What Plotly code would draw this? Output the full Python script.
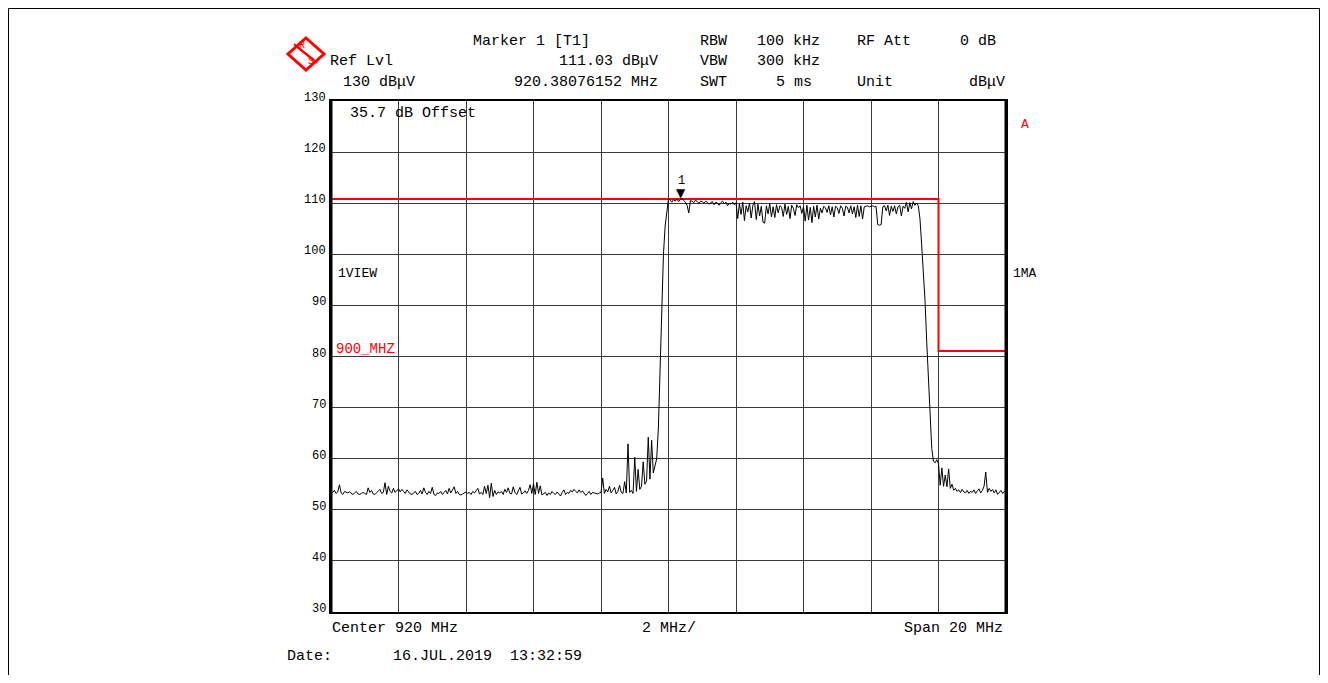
import numpy as np
import plotly.graph_objects as go

# ---------------- data ----------------
F_START, F_STOP = 910.0, 930.0          # MHz (center 920, span 20)
levels = [
    53.6, 53.4, 53.8, 53.2, 53.5, 54.9, 53.3, 53.0, 53.6, 53.4, 53.3, 53.5, 53.2, 53.0, 53.3, 53.6, 53.1, 53.0, 53.2, 53.4,
    53.2, 53.0, 54.3, 53.4, 53.8, 53.1, 53.0, 53.3, 53.6, 54.0, 53.2, 53.4, 55.3, 53.0, 54.6, 53.6, 53.3, 54.2, 53.4, 53.7,
    54.1, 53.5, 54.0, 53.6, 53.2, 53.9, 53.4, 53.1, 53.0, 53.3, 53.6, 53.0, 53.2, 53.8, 53.1, 54.3, 53.4, 53.0, 53.6, 53.2,
    54.4, 53.0, 52.8, 53.3, 53.2, 53.6, 53.0, 53.4, 53.8, 53.1, 54.2, 53.3, 53.9, 54.5, 53.2, 53.6, 53.0, 52.9, 53.1, 53.3,
    53.5, 53.2, 53.4, 53.0, 53.6, 53.3, 53.8, 54.2, 53.1, 53.4, 53.0, 54.6, 53.2, 54.8, 52.4, 55.2, 52.6, 53.8, 53.0, 53.5,
    53.3, 53.6, 53.0, 54.0, 53.4, 54.3, 53.2, 53.1, 54.5, 53.4, 53.0, 53.6, 54.4, 53.1, 53.3, 53.7, 53.2, 53.8, 54.9, 53.2,
    55.1, 53.0, 55.4, 53.2, 54.7, 52.9, 53.1, 53.4, 52.8, 53.3, 53.0, 53.6, 53.2, 53.0, 53.5, 53.1, 52.7, 53.4, 53.9, 53.0,
    53.4, 53.2, 53.8, 53.5, 54.0, 53.6, 53.3, 53.9, 53.4, 53.7, 53.1, 52.8, 53.2, 53.6, 53.0, 53.4, 53.3, 53.2, 53.1, 53.3,
    53.4, 56.2, 53.2, 54.0, 53.5, 54.6, 53.3, 53.8, 54.4, 53.1, 53.6, 54.8, 53.4, 53.2, 55.5, 53.3, 62.9, 53.4, 53.8, 53.2,
    60.3, 53.6, 57.9, 54.0, 54.6, 59.4, 55.0, 55.6, 64.2, 56.0, 63.6, 57.2, 58.4, 60.0, 66.0, 78.0, 91.0, 100.0, 105.5, 108.7,
    110.9, 110.6, 110.2, 110.7, 110.4, 110.8, 110.3, 110.7, 111.0, 110.5, 110.2, 109.6, 108.1, 110.5, 110.4, 110.1, 110.6, 110.3, 110.0, 110.4,
    110.3, 110.0, 110.4, 110.2, 109.8, 110.1, 110.3, 109.7, 110.2, 110.0, 109.6, 110.1, 110.4, 109.9, 110.2, 109.5, 110.0, 109.8, 110.2, 109.7,
    110.1, 107.0, 109.9, 107.8, 110.2, 106.6, 109.5, 108.3, 110.0, 107.1, 109.6, 110.3, 106.8, 109.8, 107.5, 109.4, 106.3, 106.1, 109.5, 107.9,
    109.9, 107.3, 109.3, 107.2, 109.7, 108.1, 109.5, 109.2, 107.4, 109.8, 107.8, 109.4, 107.0, 109.6, 109.0, 107.6, 109.7, 109.1, 109.5, 108.0,
    109.3, 106.5, 109.6, 106.7, 109.2, 106.2, 109.4, 107.3, 109.6, 106.9, 109.0, 108.1, 109.4, 109.1, 108.2, 109.5, 107.7, 109.3, 107.3, 109.4,
    109.1, 108.0, 109.5, 109.0, 107.5, 109.4, 109.2, 108.1, 109.5, 107.9, 109.3, 107.2, 109.6, 107.4, 109.5, 106.9, 109.3, 109.4, 109.5, 109.3,
    109.4, 109.5, 109.3, 109.4, 105.8, 105.7, 105.8, 109.3, 109.5, 108.5, 109.6, 107.6, 109.4, 108.4, 109.5, 107.9, 109.3, 109.6, 107.5, 109.4,
    109.0, 110.2, 108.3, 110.1, 108.9, 110.3, 109.6, 110.0, 109.5, 107.0, 102.0, 97.0, 91.0, 83.0, 75.0, 68.0, 62.0, 59.5, 59.2, 59.8,
    59.0, 54.8, 58.2, 54.6, 56.8, 54.5, 58.0, 54.2, 55.0, 53.8, 54.2, 53.6, 53.9, 53.4, 54.0, 53.5, 53.3, 53.8, 53.2, 53.6,
    53.4, 53.9, 53.2, 53.7, 54.1, 53.3, 53.8, 54.6, 57.4, 53.4, 54.2, 53.6, 54.0, 53.3, 53.9, 53.0, 53.5, 53.8, 53.2, 53.6, 53.3,
]
freq = np.linspace(F_START, F_STOP, len(levels))   # sweep points

limit_freq = [910.0, 928.0, 928.0, 930.0]
limit_level = [110.8, 110.8, 81.1, 81.1]

marker_freq = 920.38076152
marker_level = 111.03

y_tick_vals = [30, 40, 50, 60, 70, 80, 90, 100, 110, 120, 130]
y_tick_text = ["30", "40", "50", "60", "70", "80", "90", "100", "110", "120", "130"]
x_grid_vals = [910, 912, 914, 916, 918, 920, 922, 924, 926, 928, 930]

# ---------------- layout helpers (page pixel -> paper) ----------------
PL, PR, PT, PB = 331.0, 1006.0, 101.0, 612.0
W, H = 1312, 667
OFF = 8  # body margin of the page


def px(x):
    return (x - PL) / (PR - PL)


def py(y):
    return (PB - y) / (PB - PT)


FONT = "Liberation Mono"
RED = "#ff0000"

fig = go.Figure()
fig.add_trace(go.Scatter(x=limit_freq, y=limit_level, mode="lines",
                         line=dict(color=RED, width=2), hoverinfo="skip"))
fig.add_trace(go.Scatter(x=freq, y=levels, mode="lines",
                         line=dict(color="black", width=1), hoverinfo="skip"))

ann = []


def txt(s, x, y, anchor="left", color="black", size=15):
    ann.append(dict(text=s, x=px(x), y=py(y), xref="paper", yref="paper",
                    xanchor=anchor, yanchor="middle", showarrow=False,
                    font=dict(family=FONT, size=size, color=color)))


txt("Marker 1 [T1]", 471, 42)
txt("Ref Lvl", 328, 62)
txt("111.03 dBμV", 660, 62, "right")
txt("130 dBμV", 341, 83)
txt("920.38076152 MHz", 660, 83, "right")
txt("RBW", 698, 42)
txt("100 kHz", 822, 42, "right")
txt("RF Att", 855, 42)
txt("0 dB", 998, 42, "right")
txt("VBW", 698, 62)
txt("300 kHz", 822, 62, "right")
txt("SWT", 698, 83)
txt("5 ms", 814, 83, "right")
txt("Unit", 855, 83)
txt("dBμV", 1007, 83, "right")
txt("35.7 dB Offset", 348, 113)
txt("1VIEW", 336, 273, size=13)
txt("900_MHZ", 334, 349, color=RED, size=14)
txt("A", 1019, 124, color=RED, size=13)
txt("1MA", 1011, 273, size=13)
txt("Center 920 MHz", 330, 628)
txt("2 MHz/", 640, 628)
txt("Span 20 MHz", 1005, 628, "right")
txt("Date:", 285, 656)
txt("16.JUL.2019  13:32:59", 391, 656)

# y tick labels
for v, t in zip(y_tick_vals, y_tick_text):
    ann.append(dict(text=t, x=-0.005, y=v, xref="paper", yref="y",
                    xanchor="right", yanchor="middle", yshift=3, showarrow=False,
                    font=dict(family=FONT, size=12, color="black")))

# marker symbol
ann.append(dict(text="▼", x=marker_freq, y=marker_level, xref="x", yref="y",
                xanchor="center", yanchor="bottom", yshift=-4, showarrow=False,
                font=dict(family="DejaVu Sans", size=12, color="black")))
ann.append(dict(text="1", x=marker_freq, y=marker_level, xref="x", yref="y",
                xanchor="center", yanchor="bottom", yshift=8, showarrow=False,
                font=dict(family=FONT, size=12, color="black")))

shapes = []
# outer frame of the picture
shapes.append(dict(type="rect", xref="paper", yref="paper",
                   x0=px(OFF + 0.5), x1=px(OFF + W - 0.5), y0=py(700), y1=py(OFF + 0.5),
                   line=dict(color="black", width=1), fillcolor="rgba(0,0,0,0)", layer="below"))
# R&S logo (diamond)
cx, cy = 306, 54
d = "M {} {} L {} {} L {} {} L {} {} Z".format(
    px(cx), py(cy - 16), px(cx + 18), py(cy), px(cx), py(cy + 16), px(cx - 18), py(cy))
shapes.append(dict(type="path", xref="paper", yref="paper", path=d,
                   line=dict(color=RED, width=3), fillcolor="rgba(0,0,0,0)"))
for k in (-2, 1):
    shapes.append(dict(type="line", xref="paper", yref="paper",
                       x0=px(cx - 10 + k), y0=py(cy - 8 + k), x1=px(cx + 10 + k), y1=py(cy + 8 + k),
                       line=dict(color=RED, width=2)))
ann.append(dict(text="R", x=px(cx - 4), y=py(cy - 8), xref="paper", yref="paper",
                xanchor="center", yanchor="middle", showarrow=False,
                font=dict(family=FONT, size=10, color=RED)))
ann.append(dict(text="S", x=px(cx + 5), y=py(cy + 7), xref="paper", yref="paper",
                xanchor="center", yanchor="middle", showarrow=False,
                font=dict(family=FONT, size=10, color=RED)))
# thicker left/right frame edges of the grid
for xe in (0, 1):
    shapes.append(dict(type="line", xref="paper", yref="paper", x0=xe, x1=xe, y0=0, y1=1,
                       line=dict(color="black", width=3)))

fig.update_layout(
    width=W, height=H, autosize=False,
    margin=dict(l=PL - OFF, r=OFF + W - PR, t=PT - OFF, b=OFF + H - PB, pad=0),
    paper_bgcolor="white", plot_bgcolor="white",
    showlegend=False,
    annotations=ann, shapes=shapes,
    xaxis=dict(range=[F_START, F_STOP], tickvals=x_grid_vals, showticklabels=False,
               ticks="", showgrid=True, gridcolor="#3a3a3a", gridwidth=1,
               zeroline=False, showline=True, linecolor="black", linewidth=2, mirror=True,
               fixedrange=True),
    yaxis=dict(range=[30, 130], tickvals=y_tick_vals, showticklabels=False,
               ticks="", showgrid=True, gridcolor="#3a3a3a", gridwidth=1,
               zeroline=False, showline=True, linecolor="black", linewidth=2, mirror=True,
               fixedrange=True),
)

fig.write_html("out.html")
